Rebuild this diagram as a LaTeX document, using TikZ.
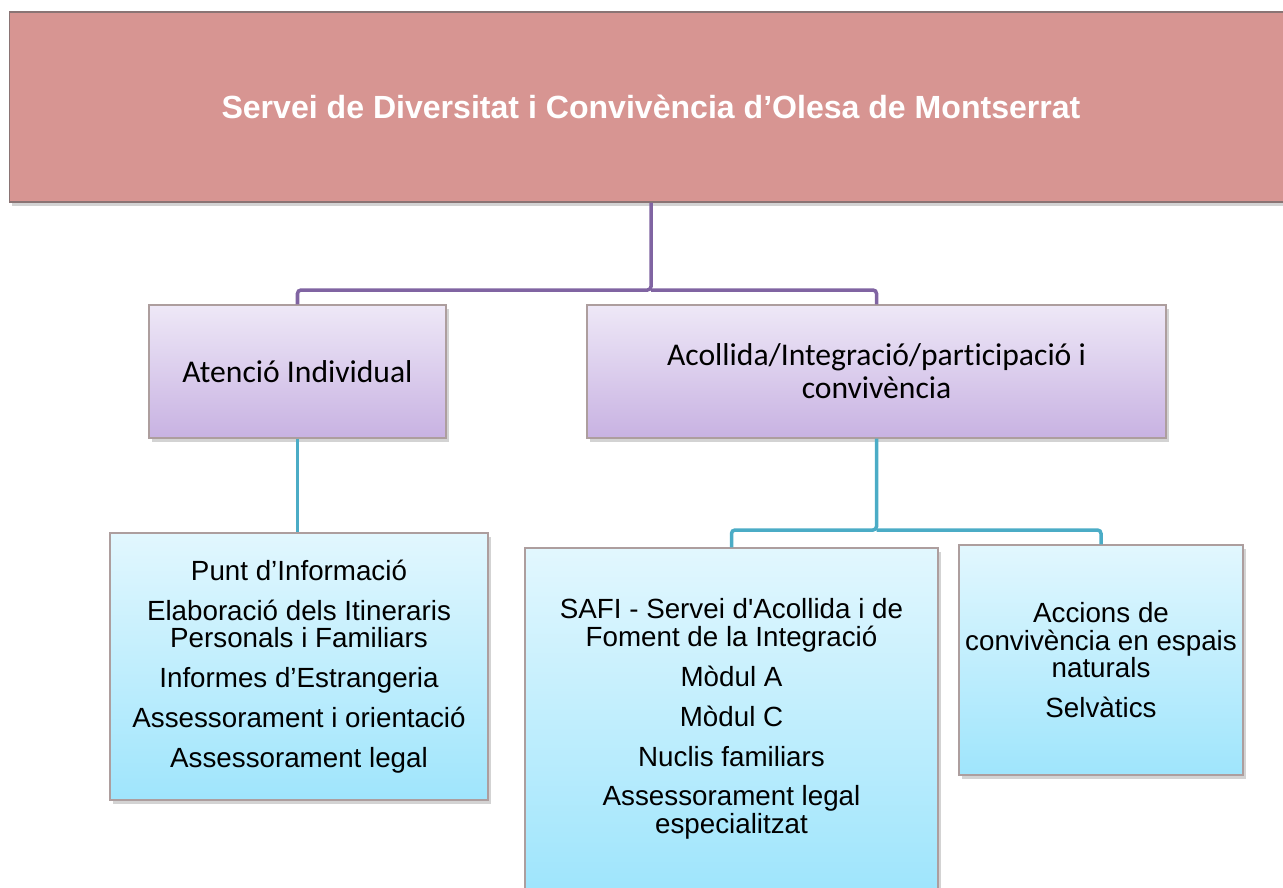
\documentclass[tikz,border=0pt]{standalone}
\usepackage{fontspec}
\newfontfamily\arial{Liberation Sans}
\newfontfamily\calibri{Carlito}[Ligatures=NoCommon]
\usetikzlibrary{shadows}
\definecolor{rosa}{HTML}{D79592}
\definecolor{vora}{HTML}{8A7474}
\definecolor{lilaclar}{HTML}{EEE8F7}
\definecolor{lilafosc}{HTML}{C8B2E2}
\definecolor{blauclar}{HTML}{E2F7FE}
\definecolor{blaufosc}{HTML}{9FE5FC}
\definecolor{linialila}{HTML}{8064A2}
\definecolor{liniablava}{HTML}{4BACC6}
\tikzset{
	caixa/.style={draw=vora!70, line width=.7pt, inner sep=0pt,
		drop shadow={shadow xshift=1.5pt, shadow yshift=-2pt, opacity=.35}},
	titol/.style={caixa, draw=vora, fill=rosa, text=white,
		font=\arial\bfseries\fontsize{18.25}{20}\selectfont},
	nivell/.style={caixa, top color=lilaclar, bottom color=lilafosc, align=center,
		font=\calibri\fontsize{18}{18.8}\selectfont},
	servei/.style={caixa, top color=blauclar, bottom color=blaufosc, align=center,
		font=\arial\fontsize{15.8}{15.9}\selectfont},
	lila/.style={draw=linialila, line width=2pt, rounded corners=2pt},
	blava/.style={draw=liniablava, line width=2pt, rounded corners=2pt}
}
\begin{document}
\begin{tikzpicture}[x=0.02cm,y=-0.02cm]
	\useasboundingbox (0,0) rectangle (1283,887);
	\clip (0,0) rectangle (1283,887);

	\node[titol, minimum width=25.68cm, minimum height=3.8cm] (servei) at (651,107)
		{Servei de Diversitat i Convivència d’Olesa de Montserrat};

	\node[nivell, minimum width=5.94cm, minimum height=2.66cm] (atencio) at (297.5,371.5)
		{Atenció Individual};
	\node[nivell, minimum width=11.58cm, minimum height=2.66cm] (acollida) at (876.5,371.5)
		{Acollida/Integració/participació i\\convivència};

	\node[servei, minimum width=7.56cm, minimum height=5.34cm] (punt) at (299,666.5)
		{Punt d’Informació\\[6.8pt]
		Elaboració dels Itineraris\\Personals i Familiars\\[6.8pt]
		Informes d’Estrangeria\\[6.8pt]
		Assessorament i orientació\\[6.8pt]
		Assessorament legal};
	\node[servei, minimum width=8.26cm, minimum height=6.84cm] (safi) at (731.5,719)
		{SAFI - Servei d'Acollida i de\\Foment de la Integració\\[6.8pt]
		Mòdul A\\[6.8pt]
		Mòdul C\\[6.8pt]
		Nuclis familiars\\[6.8pt]
		Assessorament legal\\especialitzat};
	\node[servei, minimum width=5.68cm, minimum height=4.6cm] (accions) at (1101,660)
		{Accions de\\convivència en espais\\naturals\\[6.8pt]
		Selvàtics};

	\coordinate (barra1) at (0,290);
	\coordinate (barra2) at (0,530);

	\draw[lila] (servei.south) -- (servei.south |- barra1) -| (atencio.north);
	\draw[lila] (servei.south |- barra1) -| (acollida.north);

	\draw[blava] (atencio.south) -- (atencio.south |- punt.north);
	\draw[blava] (acollida.south) -- (acollida.south |- barra2) -| (safi.north);
	\draw[blava] (acollida.south |- barra2) -| (accions.north);
\end{tikzpicture}
\end{document}
